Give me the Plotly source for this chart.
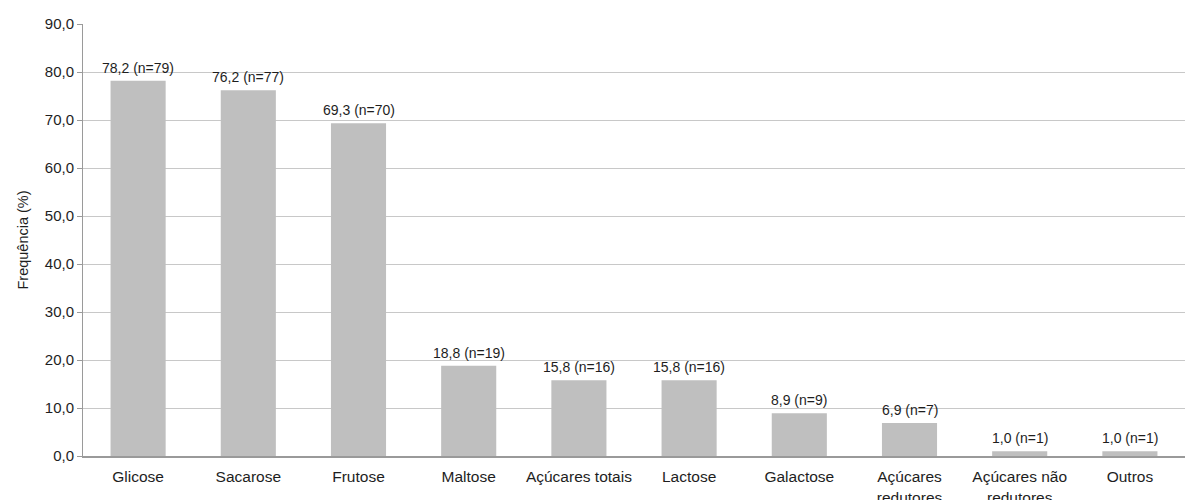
import plotly.graph_objects as go

categories = ["Glicose", "Sacarose", "Frutose", "Maltose", "Açúcares totais",
              "Lactose", "Galactose", "Açúcares<br>redutores",
              "Açúcares não<br>redutores", "Outros"]
frequency = [78.2, 76.2, 69.3, 18.8, 15.8, 15.8, 8.9, 6.9, 1.0, 1.0]
counts = [79, 77, 70, 19, 16, 16, 9, 7, 1, 1]
y_ticks = [0, 10, 20, 30, 40, 50, 60, 70, 80, 90]

labels = [f"{v:.1f}".replace(".", ",") + f" (n={n})" for v, n in zip(frequency, counts)]

FONT = "Liberation Sans, Arial"

fig = go.Figure(go.Bar(
    x=categories,
    y=frequency,
    marker=dict(color="#bfbfbf", line=dict(width=0)),
    width=0.5,
    hoverinfo="x+y",
))

# value labels sit a few pixels above each bar
for cat, val, lab in zip(categories, frequency, labels):
    fig.add_annotation(
        x=cat, y=val, text=lab, showarrow=False,
        xanchor="center", yanchor="bottom", yshift=3,
        font=dict(family=FONT, size=14, color="#1e1e1e"),
    )

fig.update_layout(
    width=1198,
    height=500,
    margin=dict(l=83, r=13, t=24, b=44),
    paper_bgcolor="white",
    plot_bgcolor="white",
    separators=",.",
    showlegend=False,
    font=dict(family=FONT, size=14, color="#1e1e1e"),
    xaxis=dict(
        showline=True, linecolor="#9a9a9a", linewidth=1.5,
        ticks="", tickfont=dict(size=15.5), ticklabelstandoff=6,
        showgrid=False, automargin=False,
    ),
    yaxis=dict(
        range=[0, 90],
        tickvals=y_ticks,
        tickformat=".1f",
        showline=True, linecolor="#9a9a9a", linewidth=1,
        ticks="outside", ticklen=5, tickcolor="#9a9a9a",
        gridcolor="#c8c8c8", gridwidth=1,
        tickfont=dict(size=15),
        title=dict(text="Frequência (%)", font=dict(size=14.5), standoff=12),
        zeroline=False, automargin=False,
    ),
)

fig.write_html("out.html")
